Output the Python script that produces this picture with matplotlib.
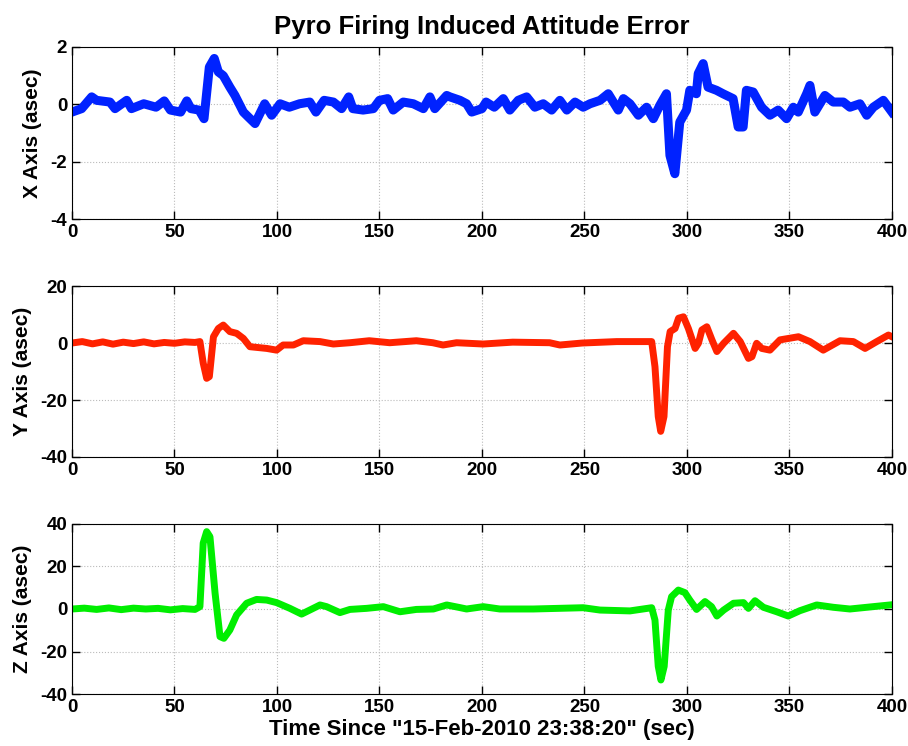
import matplotlib
matplotlib.use("Agg")
import matplotlib.pyplot as plt

plt.rcParams['font.family'] = ['Liberation Sans', 'DejaVu Sans']
plt.rcParams['font.weight'] = 'bold'
plt.rcParams['axes.unicode_minus'] = False

# X axis error (asec)
tx = [0, 4.7, 9.6, 12, 18.5, 21, 26.7, 29, 35, 41, 45, 48, 53, 56, 58, 62, 64.4, 67, 69.4,
      71.4, 73.8, 77, 79.5, 83.6, 86, 89.3, 94, 97.4, 101.5, 106, 111, 116, 119, 123, 127.5,
      131.5, 135, 137, 142, 147, 150, 154, 156.7, 161.6, 166.5, 171.4, 174.6, 177, 182.8,
      184.4, 189.3, 192.5, 195, 200, 202, 206, 210.4, 213.6, 217.7, 221.8, 225.8, 229.9,
      234, 238, 241.4, 245.4, 249.4, 252.7, 257.6, 261.6, 266.5, 269, 272.2, 276.3, 280.3,
      283.6, 286.8, 290, 291.7, 294.1, 296.5, 299.8, 301.4, 304.6, 305.5, 307.9, 310.3,
      314.4, 317.6, 322.5, 325, 327.4, 329, 332.3, 336.4, 340.5, 344.5, 348.6, 351.9,
      354.3, 358.4, 360, 362.4, 367.3, 371.4, 376.3, 379.5, 384.4, 387.7, 390.9, 395.8, 400]
vx = [-0.27, -0.15, 0.26, 0.14, 0.08, -0.15, 0.14, -0.15, 0.02, -0.1, 0.12, -0.2, -0.27,
      0.12, -0.15, -0.2, -0.5, 1.3, 1.6, 1.13, 1.0, 0.6, 0.31, -0.27, -0.44, -0.67, 0.02,
      -0.38, 0.02, -0.1, 0.02, 0.08, -0.27, 0.14, 0.08, -0.15, 0.26, -0.15, -0.2, -0.15,
      0.14, 0.2, -0.2, 0.08, 0.02, -0.15, 0.26, -0.15, 0.31, 0.26, 0.14, 0.02, -0.27,
      -0.15, 0.08, -0.1, 0.2, -0.2, 0.14, 0.26, -0.1, 0.02, -0.2, 0.14, -0.2, 0.08, -0.1,
      0.02, 0.14, 0.37, -0.2, 0.2, 0.02, -0.38, -0.1, -0.5, -0.03, 0.37, -1.78, -2.42,
      -0.62, -0.2, 0.49, 0.37, 1.07, 1.42, 0.6, 0.49, 0.37, 0.2, -0.79, -0.79, 0.49, 0.43,
      -0.1, -0.38, -0.2, -0.5, -0.1, -0.27, 0.37, 0.66, -0.27, 0.31, 0.08, 0.08, -0.1,
      0.02, -0.38, -0.1, 0.14, -0.27]

# Y axis error (asec)
ty = [0, 5, 10, 15, 20, 25, 30, 35, 40, 45, 50, 55, 60, 62.4, 64, 65.7, 67, 69, 71.4, 73.8,
      77, 80.3, 83.6, 86.8, 95, 99.8, 103, 108, 112.8, 121, 127.5, 135.6, 145, 155, 168,
      176, 181, 187.6, 200.6, 215, 233, 238, 249, 265.7, 282.8, 284.4, 286, 287.2, 288.8,
      290.5, 291.8, 294.2, 295.9, 298.3, 300.7, 304, 305.6, 307.3, 309.7, 312.2, 314.6,
      317.9, 322.7, 326, 330, 331.7, 334, 336.5, 340.5, 345.4, 354.4, 360, 366.5, 374.7,
      381.2, 386.9, 392.6, 398.3, 400]
vy = [0, 0.5, -0.3, 0.4, -0.4, 0.3, -0.2, 0.4, -0.3, 0.2, -0.1, 0.4, 0.2, 0.5, -7, -12.4,
      -11.8, 2.2, 5.1, 6.3, 4, 3.4, 1.6, -1.3, -1.9, -2.5, -0.7, -0.7, 0.8, 0.5, -0.35,
      0.1, 0.8, 0.1, 0.8, 0.1, -0.7, 0.1, -0.35, 0.3, 0.1, -0.7, 0, 0.5, 0.5, -8.3, -25.8,
      -31, -25.8, -1.3, 4, 5.1, 8.7, 9.2, 5.1, -1.9, -0.1, 4.6, 5.7, 1.1, -3, -0.1, 3.4,
      0.5, -5.4, -4.8, -0.1, -1.9, -2.5, 1.1, 2.2, 0.5, -2.5, 0.8, 0.5, -1.9, 0.5, 2.8, 2.2]

# Z axis error (asec)
tz = [0, 6, 12, 18, 24, 30, 36, 42, 48, 54, 60, 62.4, 64, 65.7, 67.3, 69.8, 72.2, 74.1, 77,
      80.3, 85.2, 90, 95, 99.8, 106.3, 112, 116, 121, 124.2, 130.7, 135.6, 143.7, 151.9,
      160, 168, 176.3, 182.8, 188.5, 192.5, 200.6, 208.7, 225, 249.4, 257.6, 272.2, 282.8,
      284.4, 286, 287.3, 288.9, 290.9, 292.5, 295.8, 299, 301.4, 304.7, 308.8, 312, 314.6,
      317.9, 322.7, 327.6, 330, 333.2, 337.3, 343.8, 349.4, 355.1, 363.3, 371.4, 379.5,
      387.7, 399]
vz = [0, 0.4, -0.2, 0.5, -0.3, 0.4, 0, 0.3, -0.4, 0.2, -0.2, 1.1, 31, 36.4, 34, 7.4, -13,
      -13.8, -9.9, -2.8, 2.7, 4.5, 4.2, 3, 0.3, -2.4, -0.5, 1.9, 1.1, -1.7, -0.2, 0.3, 1.1,
      -1.3, -0.2, 0, 1.9, 0.8, 0, 1.1, 0, 0, 0.6, -0.5, -0.9, 0.6, -5.2, -27, -33.4, -27,
      -0.5, 5.8, 8.9, 7.7, 4.2, -0.2, 3.5, 1.1, -3.3, -0.5, 2.7, 3, 0.3, 3.9, 0.8, -1.3,
      -3.3, -0.8, 1.9, 0.8, 0, 0.8, 1.9]

fig = plt.figure(figsize=(9.08, 7.46), dpi=100)
ax1 = fig.add_axes([0.0793, 0.7064, 0.903, 0.2306])
ax2 = fig.add_axes([0.0793, 0.3874, 0.903, 0.2292])
ax3 = fig.add_axes([0.0793, 0.0697, 0.903, 0.2279])

ax1.plot(tx, vx, color='#0022ff', lw=6.5)
ax2.plot(ty, vy, color='#ff2200', lw=5)
ax3.plot(tz, vz, color='#00ee00', lw=5)

ax1.set_ylim(-4, 2)
ax1.set_yticks([-4, -2, 0, 2])
ax2.set_ylim(-40, 20)
ax2.set_yticks([-40, -20, 0, 20])
ax3.set_ylim(-40, 40)
ax3.set_yticks([-40, -20, 0, 20, 40])

for ax, lab in zip([ax1, ax2, ax3], ['X Axis (asec)', 'Y Axis (asec)', 'Z Axis (asec)']):
    ax.set_xlim(0, 400)
    ax.set_xticks(range(0, 401, 50))
    ax.set_ylabel(lab, fontsize=15, fontweight='bold', labelpad=6)
    ax.grid(True, linestyle=':', color='#bbbbbb', lw=0.8)
    ax.tick_params(direction='in', top=True, right=True, length=6, labelsize=13.5, width=1)
    for t in ax.get_xticklabels() + ax.get_yticklabels():
        t.set_fontweight('bold')

ax1.set_title('Pyro Firing Induced Attitude Error', fontsize=18.5, fontweight='bold', pad=9)
ax3.set_xlabel('Time Since "15-Feb-2010 23:38:20" (sec)', fontsize=16, fontweight='bold',
               labelpad=2)

fig.savefig('out.png', dpi=100)
